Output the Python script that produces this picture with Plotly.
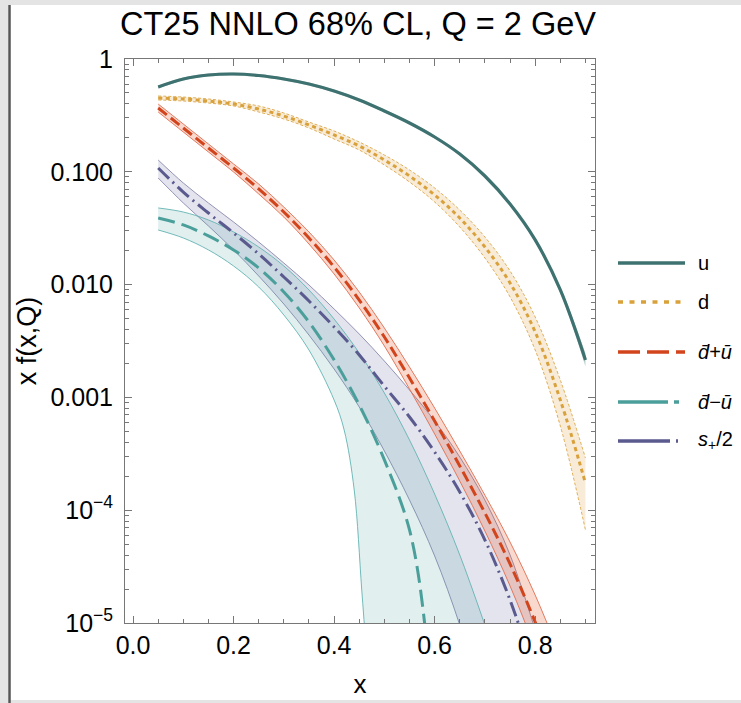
import plotly.graph_objects as go

# ---------------- data ----------------
x_main = [0.05, 0.10, 0.15, 0.20, 0.25, 0.30, 0.35, 0.40, 0.45, 0.50,
          0.55, 0.60, 0.65, 0.70, 0.75, 0.80, 0.85, 0.90]

u_c  = [0.565, 0.665, 0.721, 0.736, 0.714, 0.665, 0.600, 0.520, 0.433, 0.346,
        0.271, 0.2035, 0.1438, 0.0918, 0.0518, 0.0249, 0.00896, 0.00215]
u_hi = [0.582, 0.685, 0.743, 0.758, 0.735, 0.685, 0.618, 0.536, 0.446, 0.356,
        0.279, 0.2096, 0.1481, 0.0946, 0.0534, 0.0259, 0.00952, 0.00246]
u_lo = [0.549, 0.646, 0.700, 0.715, 0.693, 0.646, 0.583, 0.505, 0.420, 0.336,
        0.263, 0.1976, 0.1396, 0.0891, 0.0503, 0.0239, 0.00843, 0.00188]

d_c  = [0.451, 0.442, 0.424, 0.399, 0.360, 0.312, 0.260, 0.2120, 0.1693, 0.1272,
        0.0918, 0.0623, 0.0389, 0.02154, 0.01033, 0.00380, 0.000948, 0.000174]
d_hi = [0.470, 0.460, 0.442, 0.4157, 0.3833, 0.3321, 0.276, 0.230, 0.1837, 0.1409,
        0.1038, 0.0719, 0.0458, 0.0264, 0.0132, 0.00516, 0.001426, 0.000290]
d_lo = [0.433, 0.424, 0.407, 0.3833, 0.339, 0.2938, 0.2445, 0.1953, 0.1560, 0.1149,
        0.0812, 0.0540, 0.0324, 0.01721, 0.00777, 0.00263, 0.000558, 0.0000668]

x_dbu = [0.05, 0.10, 0.15, 0.20, 0.25, 0.30, 0.35, 0.40, 0.45, 0.50,
         0.55, 0.60, 0.65, 0.70, 0.75, 0.80, 0.85]
dbu_c  = [0.368, 0.2445, 0.1626, 0.1081, 0.0704, 0.0440, 0.0259, 0.01432, 0.00730, 0.00343,
          0.001486, 0.000618, 0.0002465, 9.45e-5, 3.34e-5, 1.02e-5, 2.65e-6]
dbu_hi = [0.399, 0.2653, 0.1764, 0.1173, 0.0779, 0.0487, 0.0293, 0.01652, 0.00860, 0.00412,
          0.00186, 0.000805, 0.000335, 0.000136, 5.22e-5, 1.77e-5, 5.10e-6]
dbu_lo = [0.339, 0.2253, 0.1498, 0.0996, 0.0636, 0.0397, 0.0229, 0.01242, 0.00621, 0.002855,
          0.001187, 0.000474, 0.0001815, 6.54e-5, 2.13e-5, 5.88e-6, 1.38e-6]

x_dmu_hi = [0.05, 0.10, 0.15, 0.20, 0.25, 0.30, 0.35, 0.40, 0.45, 0.50, 0.55, 0.60, 0.65, 0.70]
dmu_hi   = [0.0478, 0.0440, 0.0374, 0.0293, 0.02154, 0.01462, 0.00896, 0.00495, 0.002475,
            0.001094, 0.000419, 0.000139, 4.01e-5, 9.6e-6]
x_dmu_c  = [0.05, 0.10, 0.15, 0.20, 0.25, 0.30, 0.35, 0.40, 0.45, 0.50, 0.55, 0.58, 0.59]
dmu_c    = [0.0389, 0.0338, 0.0270, 0.0203, 0.01404, 0.00860, 0.00466, 0.00215, 0.000856,
            0.000279, 6.68e-5, 1.0e-5, 2.08e-6]
x_dmu_lo = [0.05, 0.10, 0.15, 0.20, 0.25, 0.30, 0.35, 0.40, 0.42, 0.44, 0.455, 0.465]
dmu_lo   = [0.0305, 0.0259, 0.0203, 0.01462, 0.00952, 0.00538, 0.00263, 0.000948,
            0.000514, 0.000151, 1.96e-5, 4.91e-6]

x_sp = [0.05, 0.10, 0.15, 0.20, 0.25, 0.30, 0.35, 0.40, 0.45, 0.50,
        0.55, 0.60, 0.65, 0.70, 0.75, 0.80]
sp_hi = [0.1272, 0.0796, 0.0529, 0.0359, 0.02386, 0.01554, 0.00992, 0.00608, 0.00365, 0.00210,
         0.001163, 0.000618, 0.000296, 0.000123, 4.01e-5, 8.67e-6]
sp_c  = [0.1081, 0.0662, 0.0431, 0.0287, 0.01867, 0.01168, 0.00715, 0.00421, 0.00238, 0.001257,
         0.000670, 0.000328, 0.000145, 5.44e-5, 1.60e-5, 3.46e-6]
x_sp_lo = [0.05, 0.10, 0.15, 0.20, 0.25, 0.30, 0.35, 0.40, 0.45, 0.50, 0.55, 0.60, 0.65, 0.70]
sp_lo = [0.0881, 0.0529, 0.0331, 0.0203, 0.01192, 0.00673, 0.00357, 0.001786, 0.000822,
         0.000335, 0.000123, 3.93e-5, 9.6e-6, 1.69e-6]

labels = ["u", "d", "<i>d̄</i>+<i>ū</i>", "<i>d̄</i>−<i>ū</i>", "<i>s</i><sub>+</sub>/2"]
y_tick_vals = [1, 0.1, 0.01, 0.001, 1e-4, 1e-5]
y_tick_text = ["1", "0.100", "0.010", "0.001", "10<sup>−4</sup>", "10<sup>−5</sup>"]
x_tick_vals = [0.0, 0.2, 0.4, 0.6, 0.8]
x_tick_text = ["0.0", "0.2", "0.4", "0.6", "0.8"]

# ---------------- styling ----------------
FONT = "Liberation Sans, Arial, sans-serif"
W, H = 741, 703
L, R, T, B = 125, 595, 59, 623   # plot area in pixels

col_u, col_d, col_r, col_t, col_p = "#3e7270", "#d9a13b", "#d2441c", "#4b9f9b", "#5a5a8e"
fill_u = "rgba(62,114,112,0.35)"
fill_d = "rgba(225,170,80,0.22)"
fill_r = "rgba(230,90,50,0.24)"
fill_t = "rgba(80,160,160,0.17)"
fill_p = "rgba(90,90,150,0.16)"
edge_d = "rgba(217,161,59,0.85)"
edge_r = "rgba(224,110,80,0.9)"
edge_t = "rgba(100,180,178,0.9)"
edge_p = "rgba(130,130,170,0.85)"
SMOOTH = 1.0

fig = go.Figure()


def band(xlo, ylo, xhi, yhi, fill, edge, edge_w=1.0, edge_dash="solid"):
    fig.add_trace(go.Scatter(x=xlo, y=ylo, mode="lines", showlegend=False, hoverinfo="skip",
                             line=dict(color=edge, width=edge_w, dash=edge_dash,
                                       shape="spline", smoothing=SMOOTH)))
    fig.add_trace(go.Scatter(x=xhi, y=yhi, mode="lines", showlegend=False, hoverinfo="skip",
                             fill="tonexty", fillcolor=fill,
                             line=dict(color=edge, width=edge_w, dash=edge_dash,
                                       shape="spline", smoothing=SMOOTH)))


band(x_main, u_lo, x_main, u_hi, fill_u, "rgba(0,0,0,0)", 0)
band(x_main, d_lo, x_main, d_hi, fill_d, edge_d, 1.0, "3px,2px")
band(x_sp_lo, sp_lo, x_sp, sp_hi, fill_p, edge_p, 1.0)
band(x_dmu_lo, dmu_lo, x_dmu_hi, dmu_hi, fill_t, edge_t, 1.0)
band(x_dbu, dbu_lo, x_dbu, dbu_hi, fill_r, edge_r, 1.0)

centrals = [
    (x_main, u_c, col_u, 3.2, "solid", labels[0]),
    (x_main, d_c, col_d, 3.0, "4px,3.5px", labels[1]),
    (x_dbu, dbu_c, col_r, 3.0, "11px,5px", labels[2]),
    (x_dmu_c, dmu_c, col_t, 3.0, "17px,7px", labels[3]),
    (x_sp, sp_c, col_p, 3.0, "15px,5px,2px,5px", labels[4]),
]
for xs, ys, c, w, dash, name in centrals:
    fig.add_trace(go.Scatter(x=xs, y=ys, mode="lines", name=name, showlegend=False,
                             line=dict(color=c, width=w, dash=dash, shape="spline", smoothing=SMOOTH)))

# ---------------- manual legend ----------------
def px_x(p):
    return (p - L) / (R - L)


def px_y(p):
    return (B - p) / (B - T)


leg_y = [263, 302, 352, 402, 441]
leg_dash = ["solid", "5px,6.5px", "22px,7px", "50px,6px,5px,20px", "52px,6px,2px,20px"]
leg_col = [col_u, col_d, col_r, col_t, col_p]
shapes = []
annotations = []
for yy, dsh, c, lab in zip(leg_y, leg_dash, leg_col, labels):
    shapes.append(dict(type="line", xref="paper", yref="paper",
                       x0=px_x(618), x1=px_x(685), y0=px_y(yy), y1=px_y(yy),
                       line=dict(color=c, width=3.5, dash=dsh)))
    annotations.append(dict(xref="paper", yref="paper", x=px_x(696), y=px_y(yy),
                            xanchor="left", yanchor="middle", text=lab, showarrow=False,
                            font=dict(family=FONT, size=20, color="black")))

# window border decoration
shapes += [
    dict(type="rect", xref="paper", yref="paper", x0=px_x(0), x1=px_x(8), y0=px_y(703), y1=px_y(0),
         fillcolor="#e4e4e4", line=dict(width=0), layer="below"),
    dict(type="rect", xref="paper", yref="paper", x0=px_x(0), x1=px_x(741), y0=px_y(5), y1=px_y(0),
         fillcolor="#e4e4e4", line=dict(width=0), layer="below"),
    dict(type="rect", xref="paper", yref="paper", x0=px_x(10), x1=px_x(741), y0=px_y(703), y1=px_y(700),
         fillcolor="#e4e4e4", line=dict(width=0), layer="below"),
    dict(type="line", xref="paper", yref="paper", x0=px_x(9.5), x1=px_x(9.5), y0=px_y(703), y1=px_y(5),
         line=dict(color="#555555", width=2.5)),
]

axis_common = dict(showline=True, linecolor="#777777", linewidth=1, mirror="allticks",
                   ticks="inside", tickcolor="#777777", ticklen=7, tickwidth=1,
                   showgrid=False, zeroline=False, automargin=False,
                   tickfont=dict(family=FONT, size=25, color="black"))

fig.update_layout(
    width=W, height=H,
    margin=dict(l=L, r=W - R, t=T, b=H - B, pad=0),
    paper_bgcolor="white", plot_bgcolor="white",
    title=dict(text="CT25 NNLO 68% CL, Q = 2 GeV", x=358 / W, xref="container", xanchor="center",
               y=1 - 24 / H, yref="container", yanchor="middle",
               font=dict(family=FONT, size=32.5, color="black")),
    xaxis=dict(range=[-0.016, 0.919], tickvals=x_tick_vals, ticktext=x_tick_text,
               minor=dict(dtick=0.05, tick0=0, ticks="inside", ticklen=4, tickcolor="#777777", showgrid=False),
               ticklabelstandoff=0,
               title=dict(text="x", font=dict(family=FONT, size=26, color="black"), standoff=16),
               **axis_common),
    yaxis=dict(type="log", range=[-5, 0], tickvals=y_tick_vals, ticktext=y_tick_text,
               minor=dict(tickvals=[k * 10 ** e for e in range(-5, 0) for k in range(2, 10)],
                          ticks="inside", ticklen=4, tickcolor="#777777", showgrid=False),
               ticklabelstandoff=6,
               title=dict(text="x f(x,Q)", font=dict(family=FONT, size=27, color="black"), standoff=5),
               **axis_common),
    shapes=shapes,
    annotations=annotations,
)

fig.write_html("out.html", config={"displayModeBar": False})
